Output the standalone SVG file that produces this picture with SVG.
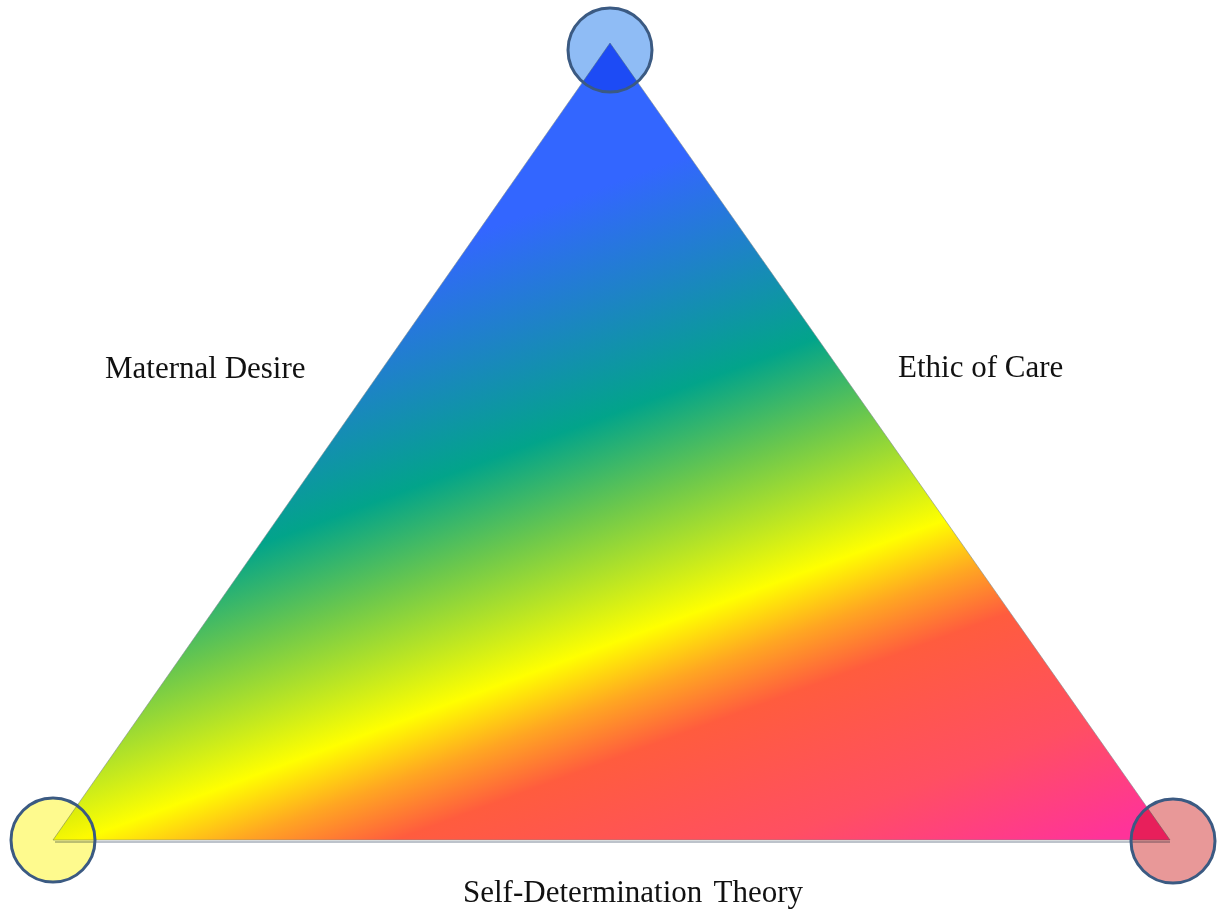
<svg xmlns="http://www.w3.org/2000/svg" width="1217" height="911" viewBox="0 0 1217 911">
  <defs>
    <linearGradient id="rainbow" gradientUnits="userSpaceOnUse" x1="610" y1="43" x2="937" y2="927">
      <stop offset="0" stop-color="#3366ff"/>
      <stop offset="0.14" stop-color="#3366ff"/>
      <stop offset="0.25" stop-color="#1e82c8"/>
      <stop offset="0.37" stop-color="#02a48a"/>
      <stop offset="0.465" stop-color="#6cc84c"/>
      <stop offset="0.598" stop-color="#ffff00"/>
      <stop offset="0.656" stop-color="#ffa622"/>
      <stop offset="0.714" stop-color="#ff5c3e"/>
      <stop offset="0.852" stop-color="#ff4f62"/>
      <stop offset="0.972" stop-color="#ff3399"/>
      <stop offset="1" stop-color="#ff3399"/>
    </linearGradient>
    <style>
      .lbl { font-family: "Liberation Serif", "Times New Roman", serif; font-size: 31px; fill: #111111; }
      .vfill { mix-blend-mode: multiply; stroke: none; }
      .ring { fill: none; stroke: #3b5a82; stroke-width: 3; }
    </style>
  </defs>
  <rect width="1217" height="911" fill="#ffffff"/>
  <g id="triangle">
    <line x1="55" y1="842" x2="1170" y2="842" stroke="#6c7a8c" stroke-opacity="0.45" stroke-width="2"/>
    <polygon points="610,43 53,840 1170,840" fill="url(#rainbow)" stroke="#7f8c8f" stroke-opacity="0.6" stroke-width="1"/>
  </g>
  <g id="connectors"></g>
  <g id="node-top">
    <circle class="vfill" cx="610" cy="50" r="42" fill="#8fbcf5"/>
    <circle class="ring" cx="610" cy="50" r="42"/>
  </g>
  <g id="node-left">
    <circle class="vfill" cx="53" cy="840" r="42" fill="#fefa8e"/>
    <circle class="ring" cx="53" cy="840" r="42"/>
  </g>
  <g id="node-right">
    <circle class="vfill" cx="1173" cy="841" r="42" fill="#e89898"/>
    <circle class="ring" cx="1173" cy="841" r="42"/>
  </g>
  <g id="labels">
    <text class="lbl" x="105" y="378">Maternal Desire</text>
    <text class="lbl" x="898" y="377">Ethic of Care</text>
    <text class="lbl" x="463" y="902" word-spacing="4">Self-Determination Theory</text>
  </g>
</svg>
